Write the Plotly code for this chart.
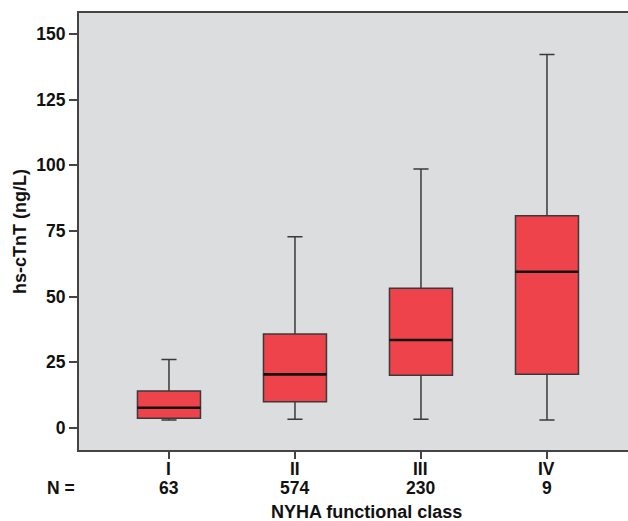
import plotly.graph_objects as go

categories = ["I", "II", "III", "IV"]
n_values = [63, 574, 230, 9]
lower_whisker = [3.0, 3.3, 3.3, 3.0]
q1 = [3.7, 10.0, 20.1, 20.4]
median = [7.7, 20.4, 33.5, 59.5]
q3 = [14.1, 35.8, 53.2, 80.8]
upper_whisker = [26.1, 72.8, 98.6, 142.2]
y_ticks = [0, 25, 50, 75, 100, 125, 150]

FONT = "Liberation Sans, Arial, sans-serif"
TXT = "#111"
fs = 17.5

def f(size=fs):
    return dict(family=FONT, size=size, weight="bold", color=TXT)

fig = go.Figure()
fig.add_trace(go.Box(
    x=categories,
    q1=q1, median=median, q3=q3,
    lowerfence=lower_whisker, upperfence=upper_whisker,
    fillcolor="#EF434B",
    line=dict(color="#3a3a3a", width=1.5),
    whiskerwidth=0.24,
    width=0.5,
    boxpoints=False,
    showlegend=False,
    hoverinfo="skip",
))
# thick black median bars (degenerate boxes at the median)
fig.add_trace(go.Box(
    x=categories,
    q1=median, median=median, q3=median,
    lowerfence=median, upperfence=median,
    fillcolor="rgba(0,0,0,0)",
    line=dict(color="#111", width=2.6),
    whiskerwidth=0,
    width=0.5,
    boxpoints=False,
    showlegend=False,
    hoverinfo="skip",
))

annotations = [
    dict(text=c, x=c, xref="x", yref="paper", y=0, yanchor="middle",
         yshift=-19, showarrow=False, font=f())
    for c in categories
]
annotations += [
    dict(text=str(n), x=c, xref="x", yref="paper", y=0, yanchor="middle",
         yshift=-38, showarrow=False, font=f())
    for c, n in zip(categories, n_values)
]
annotations += [
    dict(text="N =", xref="paper", yref="paper", x=0, y=0,
         xanchor="right", yanchor="middle", xshift=-2, yshift=-38,
         showarrow=False, font=f()),
    dict(text="NYHA functional class", xref="paper", yref="paper", x=0.524, y=0,
         xanchor="center", yanchor="middle", yshift=-62,
         showarrow=False, font=f(18)),
]

fig.update_layout(
    width=628, height=521,
    margin=dict(l=79, r=0, t=13, b=71),
    paper_bgcolor="white",
    plot_bgcolor="#DCDDDF",
    font=f(),
    boxmode="overlay",
    xaxis=dict(
        type="category",
        range=[-0.714, 3.643],
        tickvals=categories,
        showticklabels=False,
        ticks="outside", ticklen=7, tickwidth=2, tickcolor="#444",
        showline=True, linecolor="#444", linewidth=2, mirror=True,
        showgrid=False, zeroline=False,
    ),
    yaxis=dict(
        range=[-8.4, 158],
        tickvals=y_ticks,
        ticks="outside", ticklen=8, tickwidth=2, tickcolor="#444",
        showline=True, linecolor="#444", linewidth=2, mirror=False,
        showgrid=False, zeroline=False,
        tickfont=f(),
        title=dict(text="hs-cTnT (ng/L)", standoff=5, font=f(18)),
    ),
    annotations=annotations,
)

fig.write_html("out.html")
